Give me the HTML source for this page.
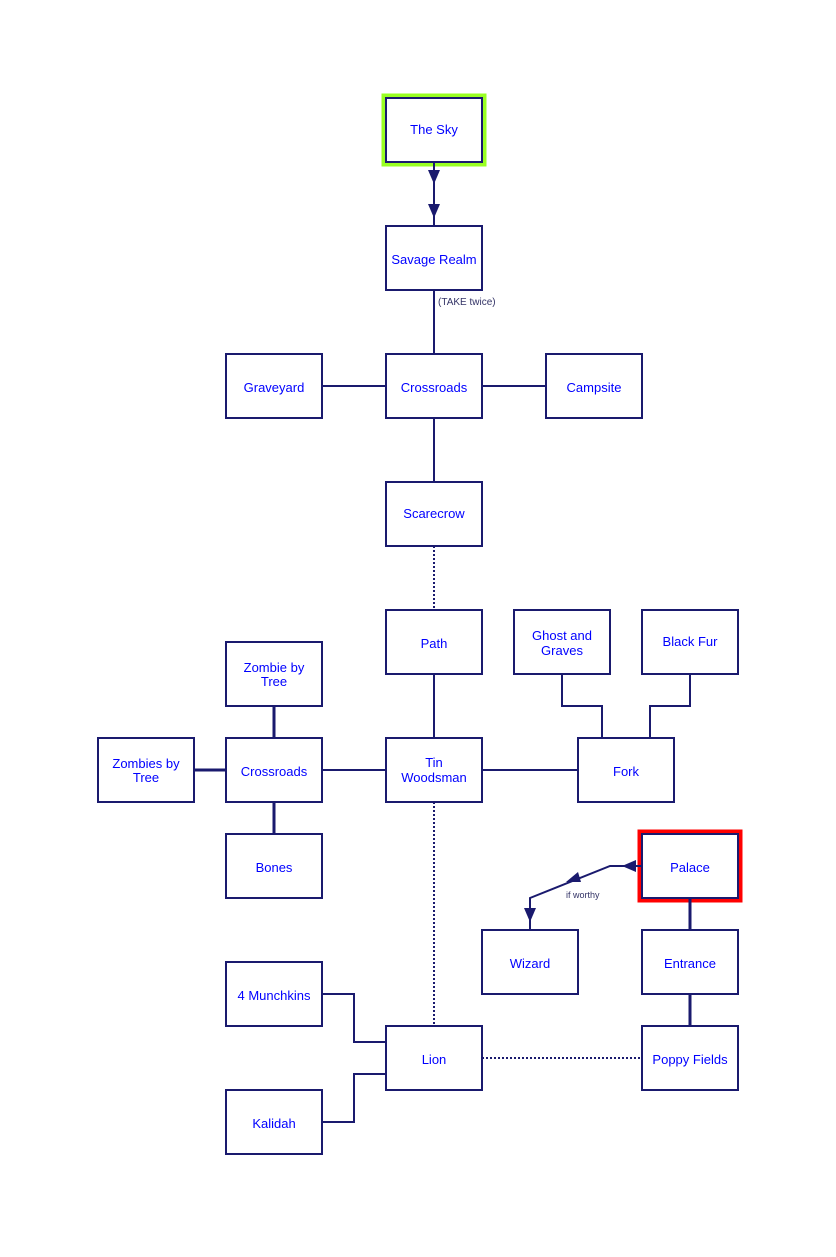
<!DOCTYPE html>
<html><head><style>body{margin:0;background:#fff}</style></head><body>
<svg width="836" height="1252" xmlns="http://www.w3.org/2000/svg" font-family="Liberation Sans, sans-serif">
<rect width="836" height="1252" fill="#fff"/>
<rect x="384" y="96" width="100" height="68" fill="none" stroke="#99ff22" stroke-width="5"/>
<rect x="640" y="832" width="100" height="68" fill="none" stroke="#ff0000" stroke-width="5"/>
<g stroke="#1a1a6e" stroke-width="2" fill="none">
<line x1="434" y1="162" x2="434" y2="226"/>
<line x1="434" y1="290" x2="434" y2="354"/>
<line x1="322" y1="386" x2="386" y2="386"/>
<line x1="482" y1="386" x2="546" y2="386"/>
<line x1="434" y1="418" x2="434" y2="482"/>
<line x1="434" y1="546" x2="434" y2="610" stroke-dasharray="2,2"/>
<line x1="434" y1="674" x2="434" y2="738"/>
<line x1="322" y1="770" x2="386" y2="770"/>
<line x1="482" y1="770" x2="578" y2="770"/>
<line x1="194" y1="770" x2="226" y2="770" stroke-width="3"/>
<line x1="274" y1="706" x2="274" y2="738" stroke-width="3"/>
<line x1="274" y1="802" x2="274" y2="834" stroke-width="3"/>
<polyline points="562,674 562,706 602,706 602,738"/>
<polyline points="690,674 690,706 650,706 650,738"/>
<line x1="434" y1="802" x2="434" y2="1026" stroke-dasharray="2,2"/>
<line x1="482" y1="1058" x2="642" y2="1058" stroke-dasharray="2,2"/>
<polyline points="322,994 354,994 354,1042 386,1042"/>
<polyline points="322,1122 354,1122 354,1074 386,1074"/>
<line x1="690" y1="898" x2="690" y2="930" stroke-width="3"/>
<line x1="690" y1="994" x2="690" y2="1026" stroke-width="3"/>
<polyline points="642,866 610,866 530,898 530,930"/>
</g>
<g fill="#1a1a6e">
<polygon points="428,170 440,170 434,184"/>
<polygon points="428,204 440,204 434,218"/>
<polygon points="622,866 636,860 636,872"/>
<polygon points="566,882 578,872 581,882"/>
<polygon points="524,908 536,908 530,922"/>
</g>
<g stroke="#1a1a6e" stroke-width="2" fill="#fff">
<rect x="386" y="98" width="96" height="64"/>
<rect x="386" y="226" width="96" height="64"/>
<rect x="386" y="354" width="96" height="64"/>
<rect x="226" y="354" width="96" height="64"/>
<rect x="546" y="354" width="96" height="64"/>
<rect x="386" y="482" width="96" height="64"/>
<rect x="386" y="610" width="96" height="64"/>
<rect x="514" y="610" width="96" height="64"/>
<rect x="642" y="610" width="96" height="64"/>
<rect x="226" y="642" width="96" height="64"/>
<rect x="98" y="738" width="96" height="64"/>
<rect x="226" y="738" width="96" height="64"/>
<rect x="386" y="738" width="96" height="64"/>
<rect x="578" y="738" width="96" height="64"/>
<rect x="226" y="834" width="96" height="64"/>
<rect x="642" y="834" width="96" height="64"/>
<rect x="482" y="930" width="96" height="64"/>
<rect x="642" y="930" width="96" height="64"/>
<rect x="226" y="962" width="96" height="64"/>
<rect x="386" y="1026" width="96" height="64"/>
<rect x="642" y="1026" width="96" height="64"/>
<rect x="226" y="1090" width="96" height="64"/>
</g>
<g fill="#0000ff" font-size="13" text-anchor="middle">
<text x="434" y="134">The Sky</text>
<text x="434" y="264">Savage Realm</text>
<text x="434" y="392">Crossroads</text>
<text x="274" y="392">Graveyard</text>
<text x="594" y="392">Campsite</text>
<text x="434" y="518">Scarecrow</text>
<text x="434" y="648">Path</text>
<text x="562" y="640">Ghost and</text>
<text x="562" y="655">Graves</text>
<text x="690" y="646">Black Fur</text>
<text x="274" y="672">Zombie by</text>
<text x="274" y="686">Tree</text>
<text x="146" y="768">Zombies by</text>
<text x="146" y="782">Tree</text>
<text x="274" y="776">Crossroads</text>
<text x="434" y="767">Tin</text>
<text x="434" y="782">Woodsman</text>
<text x="626" y="776">Fork</text>
<text x="274" y="872">Bones</text>
<text x="690" y="872">Palace</text>
<text x="530" y="968">Wizard</text>
<text x="690" y="968">Entrance</text>
<text x="274" y="1000">4 Munchkins</text>
<text x="434" y="1064">Lion</text>
<text x="690" y="1064">Poppy Fields</text>
<text x="274" y="1128">Kalidah</text>
</g>
<text x="438" y="305" font-size="10" fill="#333366">(TAKE twice)</text>
<text x="566" y="898" font-size="9" fill="#333366">if worthy</text>
</svg>
</body></html>
